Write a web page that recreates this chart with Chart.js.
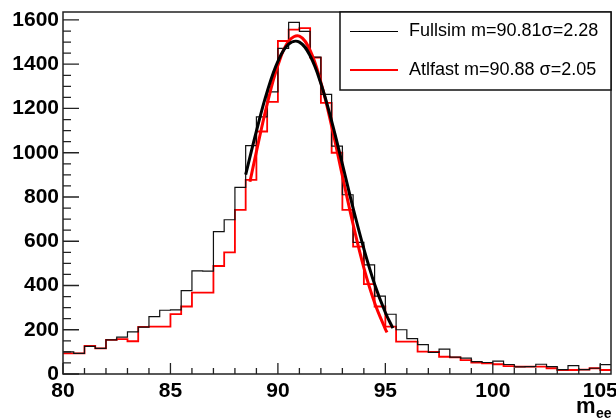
<!DOCTYPE html>
<html>
<head>
<meta charset="utf-8">
<script src="https://cdn.jsdelivr.net/npm/chart.js@4.4.0/dist/chart.umd.min.js"></script>
<style>
  html, body { margin: 0; padding: 0; background: #fff; }
  canvas { display: block; }
</style>
</head>
<body>
<canvas id="myChart" width="616" height="419"></canvas>
<script>
// bord des bins (m_ee, GeV) - 51 bins de 0.5
const binEdges = [80, 80.5, 81, 81.5, 82, 82.5, 83, 83.5, 84, 84.5, 85, 85.5, 86, 86.5, 87, 87.5,
  88, 88.5, 89, 89.5, 90, 90.5, 91, 91.5, 92, 92.5, 93, 93.5, 94, 94.5, 95, 95.5, 96, 96.5,
  97, 97.5, 98, 98.5, 99, 99.5, 100, 100.5, 101, 101.5, 102, 102.5, 103, 103.5, 104, 104.5, 105, 105.5];

// contenus des histogrammes
const fullsim = [100, 93, 125, 116, 154, 167, 190, 212, 259, 288, 290, 377, 466, 465, 643, 697,
  843, 1032, 1162, 1275, 1472, 1589, 1548, 1432, 1264, 1030, 810, 595, 493, 352, 270, 200, 160, 133,
  98, 112, 76, 72, 56, 52, 58, 43, 32, 33, 44, 33, 20, 38, 20, 26, 42];
const atlfast = [93, 93, 127, 116, 154, 158, 148, 213, 214, 214, 271, 305, 368, 368, 488, 550,
  742, 877, 1096, 1230, 1505, 1556, 1563, 1430, 1225, 1000, 742, 576, 406, 305, 214, 146, 146, 101,
  100, 78, 75, 63, 51, 48, 44, 36, 33, 33, 33, 26, 18, 18, 20, 26, 18];

// courbes de fit
const fullsimFitX = [88.5, 89, 89.5, 90, 90.5, 91, 91.5, 92, 92.5, 93, 93.5, 94, 94.5, 95, 95.35];
const fullsimFitY = [901, 1098, 1276, 1413, 1491, 1500, 1438, 1313, 1143, 949, 750, 566, 406, 278, 207];
const atlfastFitX = [88.7, 89, 89.5, 90, 90.5, 91, 91.5, 92, 92.5, 93, 93.5, 94, 94.5, 95, 95.08];
const atlfastFitY = [869, 1005, 1220, 1395, 1504, 1527, 1462, 1318, 1120, 896, 676, 480, 322, 203, 188];

const xTicks = [80, 85, 90, 95, 100, 105];
const yTicks = [0, 200, 400, 600, 800, 1000, 1200, 1400, 1600];
const legendLabels = ['Fullsim m=90.81\u03c3=2.28', 'Atlfast m=90.88 \u03c3=2.05'];

function histPoints(values) {
    return binEdges.map((x, i) => ({ x: x, y: values[Math.min(i, values.length - 1)] }));
}
function curvePoints(xs, ys) {
    return xs.map((x, i) => ({ x: x, y: ys[i] }));
}

const tickFont = { family: '"Liberation Sans", Arial, sans-serif', size: 21, weight: 'bold' };

// cadre, ticks style ROOT, legende et titre de l'axe
const rootFrame = {
    id: 'rootFrame',
    afterDraw(chart) {
        const ctx = chart.ctx;
        const a = chart.chartArea;
        const xs = chart.scales.x, ys = chart.scales.y;
        ctx.save();
        ctx.strokeStyle = '#222';
        ctx.lineWidth = 1.3;
        ctx.beginPath();
        for (let v = 0; v <= ys.max; v += 50) {
            const y = ys.getPixelForValue(v);
            const len = (v % 200 === 0) ? 16 : 8;
            ctx.moveTo(a.left, y);
            ctx.lineTo(a.left + len, y);
        }
        for (let v = 80; v <= xs.max; v += 1) {
            const x = xs.getPixelForValue(v);
            const len = (v % 5 === 0) ? 11 : 6;
            ctx.moveTo(x, a.bottom);
            ctx.lineTo(x, a.bottom - len);
        }
        ctx.stroke();
        ctx.lineWidth = 1.5;
        ctx.strokeRect(a.left, a.top, a.right - a.left, a.bottom - a.top);

        // legende
        const lx = a.right - 271, ly = a.top, lw = 271, lh = 78;
        ctx.fillStyle = '#fff';
        ctx.fillRect(lx, ly, lw, lh);
        ctx.strokeStyle = '#111';
        ctx.lineWidth = 1.5;
        ctx.strokeRect(lx, ly, lw, lh);
        const rows = [ly + 19.5, ly + 58];
        const cols = ['#000', '#f00'];
        ctx.font = '18px "Liberation Sans", Arial, sans-serif';
        ctx.textBaseline = 'middle';
        rows.forEach((ry, i) => {
            ctx.strokeStyle = cols[i];
            ctx.lineWidth = i === 0 ? 1.2 : 2;
            ctx.beginPath();
            ctx.moveTo(lx + 10, ry);
            ctx.lineTo(lx + 58, ry);
            ctx.stroke();
            ctx.fillStyle = '#000';
            ctx.fillText(legendLabels[i], lx + 69, ry);
        });

        // titre axe x
        ctx.textBaseline = 'alphabetic';
        ctx.font = 'bold 22px "Liberation Sans", Arial, sans-serif';
        ctx.fillText('m', 576, 413);
        ctx.font = 'bold 14px "Liberation Sans", Arial, sans-serif';
        ctx.fillText('ee', 596, 418);
        ctx.restore();
    }
};

new Chart(document.getElementById('myChart').getContext('2d'), {
    type: 'line',
    data: {
        datasets: [{
            label: 'Fullsim fit',
            data: curvePoints(fullsimFitX, fullsimFitY),
            borderColor: '#000',
            borderWidth: 3,
            pointRadius: 0,
            tension: 0.4,
            order: 0
        }, {
            label: 'Atlfast fit',
            data: curvePoints(atlfastFitX, atlfastFitY),
            borderColor: '#f00',
            borderWidth: 3,
            pointRadius: 0,
            tension: 0.4,
            order: 1
        }, {
            label: legendLabels[0],
            data: histPoints(fullsim),
            borderColor: '#111',
            borderWidth: 1.2,
            pointRadius: 0,
            stepped: 'before',
            order: 2
        }, {
            label: legendLabels[1],
            data: histPoints(atlfast),
            borderColor: '#f00',
            borderWidth: 1.8,
            pointRadius: 0,
            stepped: 'before',
            order: 3
        }]
    },
    options: {
        responsive: false,
        devicePixelRatio: 1,
        animation: false,
        layout: { padding: { left: 0, right: 5, top: 12, bottom: 0 }, autoPadding: false },
        scales: {
            x: {
                type: 'linear',
                min: 80,
                max: 105.5,
                afterBuildTicks: s => { s.ticks = xTicks.map(v => ({ value: v })); },
                afterFit: s => { s.height = 45; s.paddingLeft = 0; s.paddingRight = 0; },
                grid: { display: false, drawTicks: false },
                border: { display: false },
                ticks: { font: tickFont, color: '#000', padding: 5, maxRotation: 0, autoSkip: false,
                    callback: v => String(v) }
            },
            y: {
                min: 0,
                max: 1636,
                afterBuildTicks: s => { s.ticks = yTicks.map(v => ({ value: v })); },
                afterFit: s => { s.width = 63; s.paddingTop = 0; s.paddingBottom = 0; },
                grid: { display: false, drawTicks: false },
                border: { display: false },
                ticks: { font: tickFont, color: '#000', padding: 4, autoSkip: false,
                    callback: v => String(v) }
            }
        },
        plugins: { legend: { display: false }, tooltip: { enabled: false } }
    },
    plugins: [rootFrame]
});
</script>
</body>
</html>
